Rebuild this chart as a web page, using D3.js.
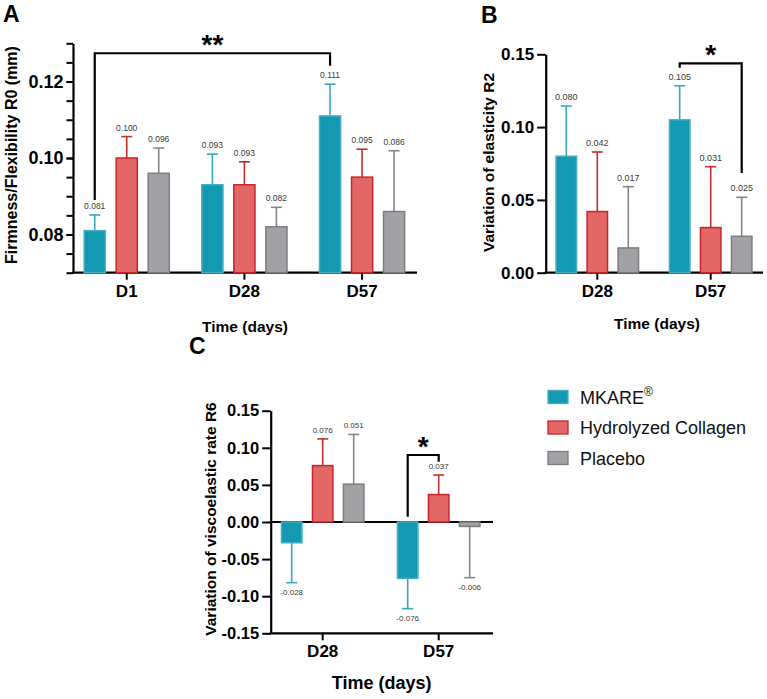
<!DOCTYPE html>
<html>
<head>
<meta charset="utf-8">
<script src="https://cdn.jsdelivr.net/npm/d3@7"></script>
<style>
    body { margin: 0; background: #fff; }
    svg { display: block; }
</style>
</head>
<body>
<script>
"use strict";

// groups and colours
var series = ["MKARE", "Hydrolyzed Collagen", "Placebo"];
var fillColors = ["#1499b3", "#e46767", "#a2a2a6"];
var strokeColors = ["#45aec3", "#c8252b", "#7d7d7d"];
var errColors = ["#3aa6bc", "#c62d2d", "#858585"];

// panel A: firmness / flexibility R0
var daysA = ["D1", "D28", "D57"];
var meanA = [[0.081, 0.100, 0.096], [0.093, 0.093, 0.082], [0.111, 0.095, 0.086]];
var sdA = [[0.0041, 0.0056, 0.0066], [0.0080, 0.0060, 0.0051], [0.0083, 0.0073, 0.0159]];
var ticksA = [0.08, 0.10, 0.12];
var minorA = [0.07, 0.075, 0.08, 0.085, 0.09, 0.095, 0.10, 0.105, 0.11, 0.115, 0.12, 0.125, 0.13];

// panel B: variation of elasticity R2
var daysB = ["D28", "D57"];
var meanB = [[0.080, 0.042, 0.017], [0.105, 0.031, 0.025]];
var sdB = [[0.0345, 0.0409, 0.0421], [0.0234, 0.0418, 0.0268]];
var ticksB = [0.00, 0.05, 0.10, 0.15];

// panel C: variation of viscoelastic rate R6
var daysC = ["D28", "D57"];
var meanC = [[-0.028, 0.076, 0.051], [-0.076, 0.037, -0.006]];
var sdC = [[0.0538, 0.0360, 0.0670], [0.0408, 0.0263, 0.0690]];
var ticksC = [-0.15, -0.10, -0.05, 0.00, 0.05, 0.10, 0.15];

// significance brackets: [group, series] -> [group, series], level, leg ends, label
var bracketsA = [{from: [0, 0], to: [2, 0], level: 0.1274, ends: [0.089, 0.1241], label: "**"}];
var bracketsB = [{from: [1, 0], to: [1, 2], level: 0.1438, ends: [0.1408, 0.0685], label: "*"}];
var bracketsC = [{from: [1, 0], to: [1, 1], level: 0.0903, ends: [0.0071, 0.0813], label: "*"}];

var font = "'Liberation Sans', Arial, Helvetica, sans-serif";
var loc = d3.formatLocale({decimal: ".", thousands: ",", grouping: [3], currency: ["", ""], minus: "-"});
var fmt3 = loc.format(".3f");
var fmt2 = loc.format(".2f");

var svg = d3.select("body")
    .append("svg")
    .attr("width", 767)
    .attr("height", 699)
    .style("font-family", font);

function drawPanel(p) {
    var g = svg.append("g");

    var y = d3.scaleLinear().domain(p.yDomain).range([p.bottom, p.top]);
    var x0 = d3.scaleBand().domain(p.days).range(p.xRange);
    var x1 = d3.scaleBand()
        .domain(series)
        .range([-p.half, p.half])
        .paddingInner(0.34)
        .paddingOuter(0.17);

    function center(i, j) {
        return x0(p.days[i]) + x0.bandwidth() / 2 + x1(series[j]) + x1.bandwidth() / 2;
    }

    // minor ticks
    if (p.minor) {
        var mn = g.append("g")
            .attr("transform", "translate(" + p.left + ",0)")
            .call(d3.axisLeft(y).tickValues(p.minor).tickSize(p.tickLen).tickFormat(""));
        mn.select(".domain").remove();
        mn.selectAll("line").attr("stroke", "#000").attr("stroke-width", 2);
    }

    // y axis
    var ya = g.append("g")
        .attr("transform", "translate(" + p.left + ",0)")
        .call(d3.axisLeft(y).tickValues(p.ticks).tickSize(p.tickLen).tickSizeOuter(0)
            .tickPadding(3).tickFormat(fmt2));
    ya.attr("font-family", font).attr("font-size", p.tickFont).attr("font-weight", "bold");
    ya.selectAll("text").attr("fill", "#000");
    ya.selectAll("line").attr("stroke", "#000").attr("stroke-width", 2);
    ya.select(".domain").attr("stroke", "#000").attr("stroke-width", 2.2);

    // x axis
    var xa = g.append("g")
        .attr("transform", "translate(0," + p.bottom + ")")
        .call(d3.axisBottom(x0).tickSize(7).tickSizeOuter(0).tickPadding(5));
    xa.select(".domain").remove();
    xa.attr("font-family", font).attr("font-size", p.catFont).attr("font-weight", "bold");
    xa.selectAll("text").attr("fill", "#000");
    xa.selectAll("line").attr("stroke", "#000").attr("stroke-width", 2);

    g.append("line")
        .attr("x1", p.left - 1)
        .attr("x2", p.right)
        .attr("y1", p.bottom)
        .attr("y2", p.bottom)
        .attr("stroke", "#000")
        .attr("stroke-width", 2.2);

    var base = p.yDomain[0] > 0 ? p.yDomain[0] : 0;
    if (base !== p.yDomain[0]) {
        g.append("line")
            .attr("x1", p.left)
            .attr("x2", p.right)
            .attr("y1", y(0))
            .attr("y2", y(0))
            .attr("stroke", "#000")
            .attr("stroke-width", 2);
    }

    var rows = [];
    p.means.forEach(function (m, i) {
        m.forEach(function (v, j) {
            rows.push({i: i, j: j, v: v, sd: p.sds[i][j]});
        });
    });

    // error bars (one sided)
    var eb = g.selectAll(".err").data(rows).enter().append("g").attr("class", "err");
    eb.append("line")
        .attr("x1", function (d) { return center(d.i, d.j); })
        .attr("x2", function (d) { return center(d.i, d.j); })
        .attr("y1", function (d) { return y(d.v); })
        .attr("y2", function (d) { return y(d.v < 0 ? d.v - d.sd : d.v + d.sd); })
        .attr("stroke", function (d) { return errColors[d.j]; })
        .attr("stroke-width", 1.6);
    eb.append("line")
        .attr("x1", function (d) { return center(d.i, d.j) - 5.5; })
        .attr("x2", function (d) { return center(d.i, d.j) + 5.5; })
        .attr("y1", function (d) { return y(d.v < 0 ? d.v - d.sd : d.v + d.sd); })
        .attr("y2", function (d) { return y(d.v < 0 ? d.v - d.sd : d.v + d.sd); })
        .attr("stroke", function (d) { return errColors[d.j]; })
        .attr("stroke-width", 1.6);

    // bars
    g.selectAll(".bar")
        .data(rows)
        .enter()
        .append("rect")
        .attr("class", "bar")
        .attr("x", function (d) { return center(d.i, d.j) - x1.bandwidth() / 2; })
        .attr("y", function (d) { return y(Math.max(d.v, base)); })
        .attr("width", x1.bandwidth())
        .attr("height", function (d) { return Math.abs(y(d.v) - y(base)); })
        .attr("fill", function (d) { return fillColors[d.j]; })
        .attr("stroke", function (d) { return strokeColors[d.j]; })
        .attr("stroke-width", 1.5);

    // value labels
    g.selectAll(".val")
        .data(rows)
        .enter()
        .append("text")
        .attr("class", "val")
        .attr("x", function (d) { return center(d.i, d.j); })
        .attr("y", function (d) {
            return d.v < 0 ? y(d.v - d.sd) + 12 : y(d.v + d.sd) - 6;
        })
        .attr("text-anchor", "middle")
        .attr("font-size", p.valFont)
        .attr("fill", "#3a3a3a")
        .text(function (d) { return fmt3(d.v); });

    // significance brackets
    p.brackets.forEach(function (b) {
        var xa1 = center(b.from[0], b.from[1]);
        var xb1 = center(b.to[0], b.to[1]);
        g.append("path")
            .attr("d", "M" + xa1 + "," + y(b.ends[0]) + "V" + y(b.level) +
                "H" + xb1 + "V" + y(b.ends[1]))
            .attr("fill", "none")
            .attr("stroke", "#000")
            .attr("stroke-width", 2.2);
        g.append("text")
            .attr("x", (xa1 + xb1) / 2)
            .attr("y", y(b.level) + 1)
            .attr("text-anchor", "middle")
            .attr("font-size", 28)
            .attr("font-weight", "bold")
            .text(b.label);
    });

    // axis titles and panel letter
    g.append("text")
        .attr("transform", "translate(" + p.yTitle[0] + "," + p.yTitle[1] + ") rotate(-90)")
        .attr("text-anchor", "middle")
        .attr("font-size", p.yTitleFont)
        .attr("font-weight", "bold")
        .text(p.yLabel);
    g.append("text")
        .attr("x", p.xTitle[0])
        .attr("y", p.xTitle[1])
        .attr("text-anchor", "middle")
        .attr("font-size", p.xTitleFont)
        .attr("font-weight", "bold")
        .text("Time (days)");
    g.append("text")
        .attr("x", p.letter[0])
        .attr("y", p.letter[1])
        .attr("font-size", 23)
        .attr("font-weight", "bold")
        .text(p.letterText);
}

drawPanel({
    days: daysA, means: meanA, sds: sdA, ticks: ticksA, minor: minorA, brackets: bracketsA,
    yDomain: [0.07, 0.13], top: 43.3, bottom: 272.7, left: 73, right: 417,
    xRange: [67.9, 420.9], half: 48, tickLen: 6.5, tickFont: 18, catFont: 17, valFont: 8.5,
    yLabel: "Firmness/Flexibility R0 (mm)", yTitle: [16.5, 155], yTitleFont: 16,
    xTitle: [245, 332], xTitleFont: 15.5, letter: [3, 21.7], letterText: "A"
});

drawPanel({
    days: daysB, means: meanB, sds: sdB, ticks: ticksB, brackets: bracketsB,
    yDomain: [0, 0.15], top: 54.3, bottom: 272.7, left: 545.7, right: 763,
    xRange: [540.6, 767.4], half: 46.5, tickLen: 8.5, tickFont: 17, catFont: 17, valFont: 9,
    yLabel: "Variation of elasticity R2", yTitle: [494, 162.5], yTitleFont: 15.5,
    xTitle: [657, 329], xTitleFont: 15.5, letter: [481, 23], letterText: "B"
});

drawPanel({
    days: daysC, means: meanC, sds: sdC, ticks: ticksC, brackets: bracketsC,
    yDomain: [-0.15, 0.15], top: 410.7, bottom: 633.3, left: 270.7, right: 493,
    xRange: [264.7, 496.7], half: 46.5, tickLen: 8.5, tickFont: 16.5, catFont: 17, valFont: 8,
    yLabel: "Variation of viscoelastic rate R6", yTitle: [216, 519], yTitleFont: 15.5,
    xTitle: [381.7, 689], xTitleFont: 18, letter: [189, 354], letterText: "C"
});

// legend
var legendY = [397, 427.5, 458];
var legend = svg.append("g");
series.forEach(function (s, j) {
    legend.append("rect")
        .attr("x", 548)
        .attr("y", legendY[j] - 6.5)
        .attr("width", 20)
        .attr("height", 13)
        .attr("fill", fillColors[j])
        .attr("stroke", strokeColors[j])
        .attr("stroke-width", 1.3);
    var t = legend.append("text")
        .attr("x", 580)
        .attr("y", legendY[j] + 6.5)
        .attr("font-size", 18)
        .attr("fill", "#111")
        .text(s);
    if (j === 0) {
        t.append("tspan")
            .attr("font-size", 12)
            .attr("dy", -8)
            .text("®");
    }
});
</script>
</body>
</html>
